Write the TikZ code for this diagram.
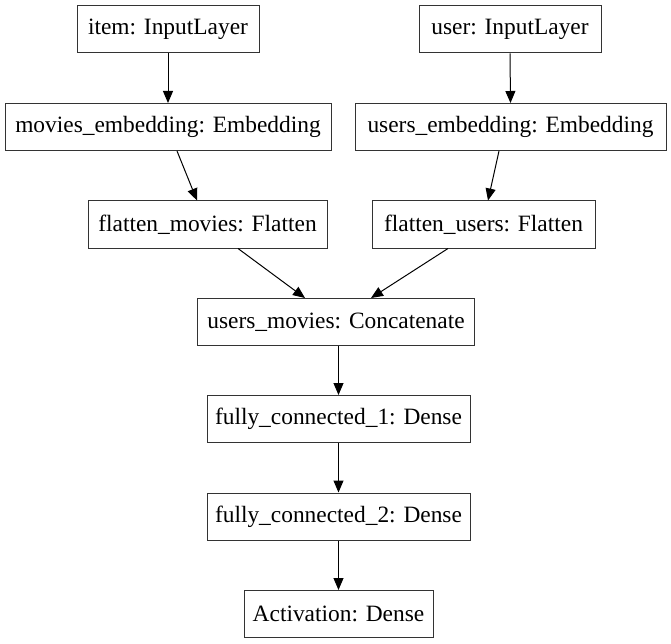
\documentclass[tikz,border=0pt]{standalone}
\usepackage{fontspec}
\setmainfont{Liberation Serif}
\usetikzlibrary{arrows.meta}
\begin{document}
\begin{tikzpicture}[x=1pt,y=-1pt,
  layer/.style={draw=black!80,line width=1pt,fill=white,inner sep=0pt,minimum height=47pt,
    font=\fontsize{23.4}{28}\selectfont,anchor=center},
  edge/.style={line width=1pt,-{Triangle[length=12pt,width=10pt]}}]
\useasboundingbox (0,0) rectangle (671,644);
\node[layer,minimum width=182pt] (item) at (168,29.5) {item: InputLayer};
\node[layer,minimum width=182pt] (user) at (510,29.5) {user: InputLayer};
\node[layer,minimum width=326pt] (me) at (168,127) {movies\_embedding: Embedding};
\node[layer,minimum width=311pt] (ue) at (510.5,127) {users\_embedding: Embedding};
\node[layer,minimum width=239pt] (fm) at (207.5,224.5) {flatten\_movies: Flatten};
\node[layer,minimum width=223pt] (fu) at (483.5,224.5) {flatten\_users: Flatten};
\node[layer,minimum width=277pt] (cc) at (336,322) {users\_movies: Concatenate};
\node[layer,minimum width=263pt] (f1) at (338.5,419) {fully\_connected\_1: Dense};
\node[layer,minimum width=263pt] (f2) at (338.5,516.5) {fully\_connected\_2: Dense};
\node[layer,minimum width=189pt] (act) at (338.5,614) {Activation: Dense};
\draw[edge] (item.south) -- (me.north);
\draw[edge] (user.south) -- (ue.north);
\draw[edge] ([xshift=9pt]me.south) -- ([xshift=-10.5pt]fm.north);
\draw[edge] ([xshift=-11.5pt]ue.south) -- ([xshift=4.5pt]fu.north);
\draw[edge] ([xshift=30.5pt]fm.south) -- ([xshift=-31pt]cc.north);
\draw[edge] ([xshift=-35.5pt]fu.south) -- ([xshift=35pt]cc.north);
\draw[edge] ([xshift=2.5pt]cc.south) -- (f1.north);
\draw[edge] (f1.south) -- (f2.north);
\draw[edge] (f2.south) -- (act.north);
\end{tikzpicture}
\end{document}
